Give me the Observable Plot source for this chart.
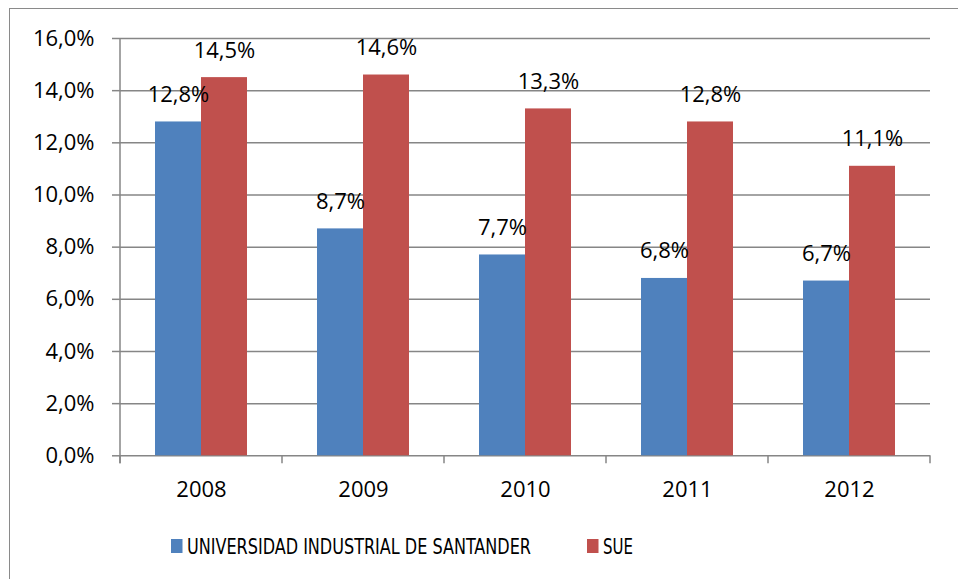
<!DOCTYPE html>
<html><head><meta charset="utf-8">
<script src="https://cdn.jsdelivr.net/npm/d3@7"></script>
<script src="https://cdn.jsdelivr.net/npm/@observablehq/plot@0.6"></script>
<style>
html,body{margin:0;padding:0;background:#fff;overflow:hidden;width:958px;height:579px;}
#frame{position:absolute;left:8.5px;top:7.5px;width:1200px;height:1200px;border:1.5px solid #8a8a8a;box-sizing:border-box;}
#chart{position:absolute;left:0;top:0;}
#legend{position:absolute;left:0;top:520px;}
</style></head><body>
<div id="frame"></div>
<div id="chart"></div>
<div id="legend"></div>
<script>
const years = ["2008", "2009", "2010", "2011", "2012"];
const seriesNames = ["UNIVERSIDAD INDUSTRIAL DE SANTANDER", "SUE"];
const uisValues = [12.8, 8.7, 7.7, 6.8, 6.7];
const sueValues = [14.5, 14.6, 13.3, 12.8, 11.1];
const yTicks = [0, 2, 4, 6, 8, 10, 12, 14, 16];
const colors = ["#4F81BD", "#C0504D"];

const data = years.flatMap((yr, i) => [
  {year: yr, series: seriesNames[0], value: uisValues[i]},
  {year: yr, series: seriesNames[1], value: sueValues[i]}
]);
const fmt = v => v.toFixed(1).replace(".", ",") + "%";
const gridColor = "#868686";

const plot = Plot.plot({
  width: 958, height: 520,
  marginLeft: 118, marginRight: 26, marginTop: 38, marginBottom: 64.7,
  style: {fontFamily: "'Open Sans', sans-serif", fontSize: "22px", color: "#000", background: "transparent", overflow: "visible"},
  fx: {domain: years, padding: 0, label: null, axis: null},
  x: {domain: seriesNames, paddingInner: 0, paddingOuter: 0.75, axis: null},
  y: {domain: [0, 16], axis: null},
  color: {domain: seriesNames, range: colors},
  marks: [
    Plot.ruleY(yTicks, {stroke: gridColor, strokeWidth: 1.5}),
    Plot.barY(data, {fx: "year", x: "series", y: "value", fill: "series"}),
    Plot.text(data, {fx: "year", x: "series", y: "value", text: d => fmt(d.value), dy: -27, lineAnchor: "middle", fontSize: 22, fill: "#000"}),
    Plot.axisY({ticks: yTicks, tickFormat: fmt, tickSize: 8, tickPadding: 18, stroke: gridColor, strokeWidth: 1.5, fill: "#000", fontSize: 22, label: null}),
    Plot.axisFx({anchor: "bottom", tickSize: 0, tickPadding: 26, label: null, fontSize: 22, fill: "#000"}),
    Plot.frame({facet: "super", render: (index, scales, values, dims) => {
      const {fx, y} = scales;
      let edges;
      if (fx) edges = years.map(k => fx(k)).concat(dims.width - dims.marginRight);
      else {
        const step = (dims.width - dims.marginLeft - dims.marginRight) / years.length;
        edges = d3.range(years.length + 1).map(i => dims.marginLeft + i * step);
      }
      const g = d3.create("svg:g").attr("stroke", gridColor).attr("stroke-width", 1.5);
      g.append("line").attr("x1", edges[0]).attr("x2", edges[0]).attr("y1", y(16)).attr("y2", y(0) + 8);
      for (const e of edges) g.append("line").attr("x1", e).attr("x2", e).attr("y1", y(0)).attr("y2", y(0) + 8);
      return g.node();
    }})
  ]
});
document.getElementById("chart").append(plot);

// legend
const lg = d3.select("#legend").append("svg").attr("width", 958).attr("height", 59)
  .style("font-family", "'Liberation Sans Narrow', 'DejaVu Sans Condensed', sans-serif").style("font-size", "21.5px");
const items = [
  {name: seriesNames[0], color: colors[0], sx: 171, tx: 187, tw: 344},
  {name: seriesNames[1], color: colors[1], sx: 587, tx: 603, tw: 30}
];
for (const it of items) {
  lg.append("rect").attr("x", it.sx).attr("y", 19).attr("width", 11.5).attr("height", 14).attr("fill", it.color);
  lg.append("text").attr("x", it.tx).attr("y", 34).attr("textLength", it.tw).attr("lengthAdjust", "spacingAndGlyphs").attr("fill", "#000").text(it.name);
}
</script>
</body></html>
